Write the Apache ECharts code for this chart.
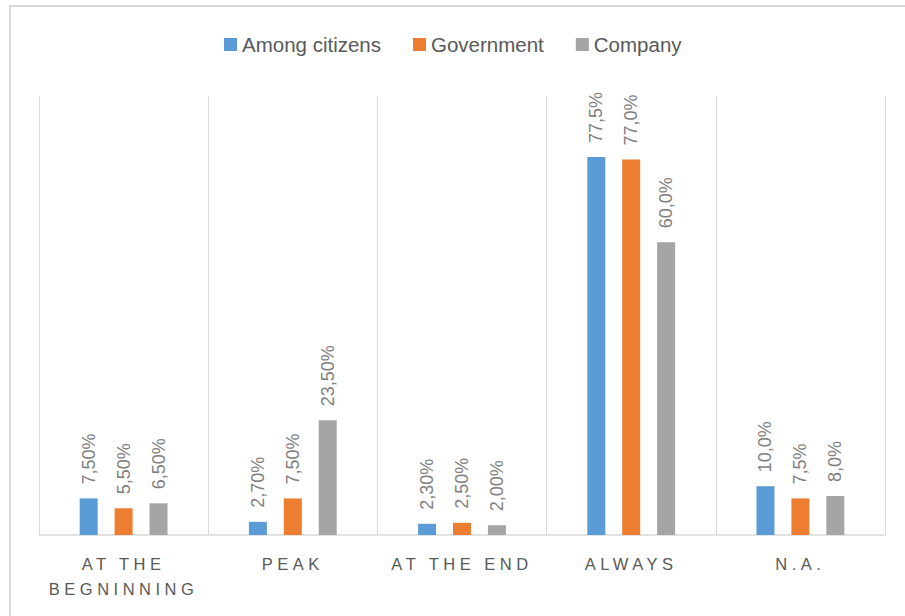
<!DOCTYPE html>
<html>
<head>
<meta charset="utf-8">
<script src="https://cdn.jsdelivr.net/npm/echarts@6/dist/echarts.min.js"></script>
<style>
    html, body { margin: 0; padding: 0; background: #fff; }
    #chart { width: 905px; height: 616px; }
    /* 分类轴标签加字距 */
    #chart text[fill="#595958"] { letter-spacing: 4.5px; }
</style>
</head>
<body>
<div id="chart"></div>
<script>
// 分类
var categories = ['AT THE\nBEGNINNING', 'PEAK', 'AT THE END', 'ALWAYS', 'N.A.'];
var seriesNames = ['Among citizens', 'Government', 'Company'];

// 数值 (%)
var citizensValues = [7.5, 2.7, 2.3, 77.5, 10.0];
var governmentValues = [5.5, 7.5, 2.5, 77.0, 7.5];
var companyValues = [6.5, 23.5, 2.0, 60.0, 8.0];

// 数据标签文字
var citizensLabels = ['7,50%', '2,70%', '2,30%', '77,5%', '10,0%'];
var governmentLabels = ['5,50%', '7,50%', '2,50%', '77,0%', '7,5%'];
var companyLabels = ['6,50%', '23,50%', '2,00%', '60,0%', '8,0%'];

var colors = ['#5b9bd5', '#ed7d31', '#a5a5a5'];
var fontFamily = '"Liberation Sans", Arial, sans-serif';

var myChart = echarts.init(document.getElementById('chart'), null, { renderer: 'svg' });

function makeSeries(name, values, labels) {
    return {
        name: name,
        type: 'bar',
        data: values,
        barWidth: 18,
        barGap: '94%',
        label: {
            show: true,
            position: 'top',
            rotate: 90,
            align: 'left',
            verticalAlign: 'middle',
            distance: 14,
            color: '#7f7f7f',
            fontSize: 18,
            fontFamily: fontFamily,
            formatter: function(p) {
                return labels[p.dataIndex];
            }
        }
    };
}

var option = {
    animation: false,
    color: colors,
    backgroundColor: '#fff',
    graphic: [{
        type: 'rect',
        shape: { x: 10, y: 6, width: 1000, height: 1000 },
        style: { fill: 'none', stroke: '#d9d9d9', lineWidth: 2 },
        silent: true
    }],
    legend: {
        data: seriesNames,
        left: 219,
        top: 29,
        icon: 'rect',
        itemWidth: 13,
        itemHeight: 13,
        itemGap: 32,
        textStyle: {
            color: '#595959',
            fontSize: 20.5,
            fontFamily: fontFamily
        }
    },
    grid: {
        left: 39,
        right: 20,
        top: 96,
        bottom: 81
    },
    xAxis: {
        type: 'category',
        data: categories,
        axisTick: { show: false },
        axisLine: { lineStyle: { color: '#d9d9d9', width: 1.5 } },
        splitLine: { show: true, lineStyle: { color: '#d9d9d9', width: 1 } },
        axisLabel: {
            color: '#595958',
            fontSize: 16.5,
            fontFamily: fontFamily,
            lineHeight: 25,
            margin: 16,
            interval: 0
        }
    },
    yAxis: {
        type: 'value',
        min: 0,
        max: 90,
        show: false,
        splitLine: { show: false }
    },
    series: [
        makeSeries(seriesNames[0], citizensValues, citizensLabels),
        makeSeries(seriesNames[1], governmentValues, governmentLabels),
        makeSeries(seriesNames[2], companyValues, companyLabels)
    ]
};

myChart.setOption(option);
</script>
</body>
</html>
